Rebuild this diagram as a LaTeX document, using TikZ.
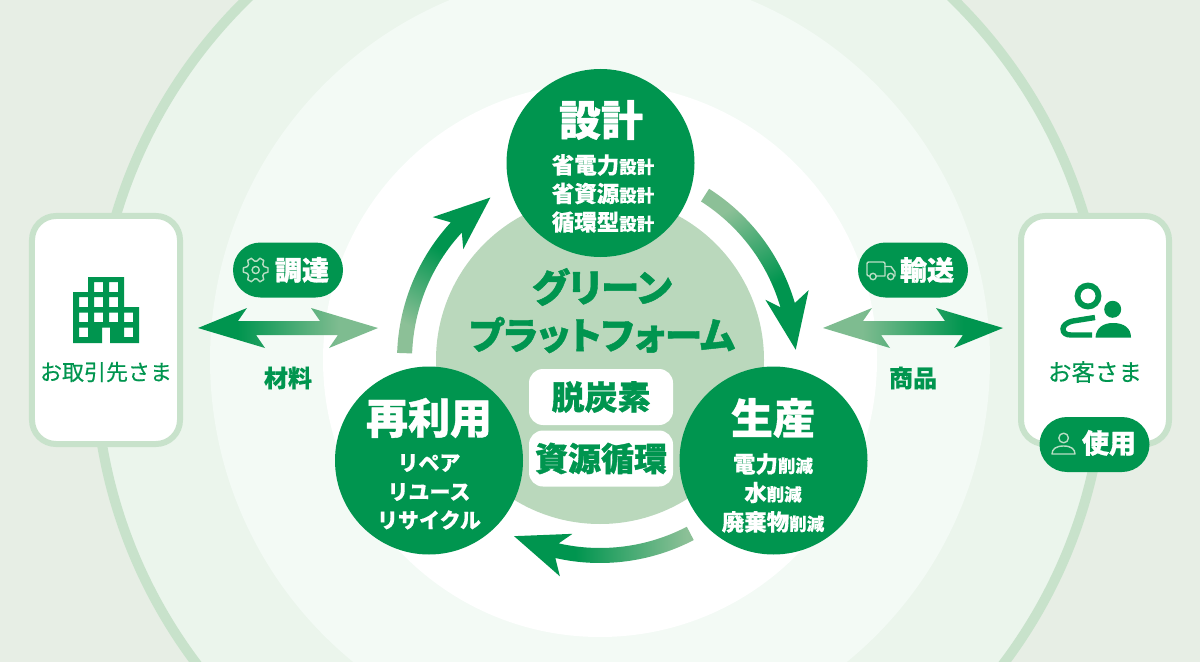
\documentclass[tikz,border=0pt]{standalone}
\usepackage{fontspec}
\setmainfont{Noto Sans CJK JP}
\newfontfamily\jpr{Noto Sans CJK JP}[FakeBold=0.35]
\newfontfamily\jpm{Noto Sans CJK JP}[BoldFeatures={FakeBold=0.15}]
\newfontfamily\jph{Noto Sans CJK JP}[BoldFeatures={FakeBold=1.0}]
\newfontfamily\jpk{Noto Sans CJK JP}[BoldFeatures={FakeBold=1.2},RawFeature=+palt]
\definecolor{gr}{HTML}{00954F}
\definecolor{grlite}{HTML}{8CC097}
\definecolor{bgout}{HTML}{E7EEE5}
\definecolor{bgring}{HTML}{EBF5EC}
\definecolor{bgmid}{HTML}{F3FAF5}
\definecolor{ringc}{HTML}{C8E2CB}
\definecolor{platc}{HTML}{BAD8BC}
\definecolor{iconl}{HTML}{B9DEC4}
\pgfdeclarehorizontalshading{gradarc}{100bp}{color(0bp)=(grlite);color(27bp)=(grlite);color(58bp)=(gr);color(100bp)=(gr)}
\pgfdeclarehorizontalshading{gradbar}{100bp}{color(0bp)=(gr);color(36bp)=(gr);color(64bp)=(grlite!90!gr);color(100bp)=(grlite!90!gr)}
\newcommand{\fsz}[1]{\fontsize{#1bp}{#1bp}\selectfont}
\newcommand{\lineBS}[2]{{\fsz{22.5}#1\fsz{17.5}#2}}
\tikzset{
  hubdisc/.style={circle,fill=gr,minimum size=188bp,inner sep=0pt},
  partybox/.style={rectangle,rounded corners=24bp,draw=ringc,line width=6bp,fill=white,minimum width=148bp,minimum height=228bp,inner sep=0pt},
  pill/.style={rectangle,rounded corners=27.5bp,fill=gr,minimum width=110bp,minimum height=55bp,inner sep=0pt},
  tagbox/.style={rectangle,rounded corners=14bp,fill=white,minimum width=144bp,minimum height=56bp,inner sep=0pt},
  txt/.style={inner sep=0pt,outer sep=0pt,align=center},
  whead/.style={txt,text=white,font=\jph\bfseries\fsz{42}},
  wsub/.style={txt,text=white,font=\jpm\bfseries},
  gtag/.style={txt,text=gr,font=\jph\bfseries\fsz{33}},
  gname/.style={txt,text=gr,font=\jpr\fsz{22}},
  glabel/.style={txt,text=gr,font=\jpm\bfseries\fsz{24}},
  wpill/.style={txt,text=white,font=\jph\bfseries\fsz{27}},
  ticon/.style={draw=iconl,line width=1.4bp,line join=round,line cap=round},
}
\begin{document}
\begin{tikzpicture}[x=1bp,y=-1bp]
\useasboundingbox (0,0) rectangle (1200,662);
\fill[bgout] (0,0) rectangle (1200,662);
\coordinate (hub) at (600,360);
\begin{scope}
\clip (0,0) rectangle (1200,662);
\fill[bgring] (hub) circle [radius=505];
\draw[ringc,line width=10bp] (hub) circle [radius=505];
\fill[bgmid] (hub) circle [radius=390];
\fill[white] (hub) circle [radius=277];
\end{scope}
\fill[platc] (hub) circle [radius=164];

% cycle arrows
\newcommand{\cyclearrow}[3]{%
  \pgfmathsetmacro{\notch}{#2+13.3}\pgfmathsetmacro{\barbo}{#2+15.5}\pgfmathsetmacro{\barbi}{#2+17}%
  \begin{scope}[shift={(hub)},yscale=-1]
  \shade[shading=gradarc,shading angle=#3]
    (#1:203) arc[start angle=#1,end angle=\notch,radius=203] -- (\barbo:220) -- (#2:196) -- (\barbi:176) -- (\notch:188)
    arc[start angle=\notch,end angle=#1,radius=188] -- cycle;
  \end{scope}}
\cyclearrow{178}{124}{60}
\cyclearrow{57.5}{3}{-60}
\cyclearrow{-62.5}{-116}{180}

% discs
\node[hubdisc] (design) at (600.5,163) {};
\node[hubdisc] (reuse) at (429,460.5) {};
\node[hubdisc] (prod) at (773.5,460.5) {};
\node[whead] (designT) at (601,120) {設計};
\node[wsub] (d1) at (603,165) {\lineBS{省電力}{設計}};
\node[wsub] (d2) at (603,193.5) {\lineBS{省資源}{設計}};
\node[wsub] (d3) at (603,222) {\lineBS{循環型}{設計}};
\node[whead] (reuseT) at (429,418) {再利用};
\node[wsub,font=\jpm\bfseries\fsz{21}] (r1) at (429,463) {リペア};
\node[wsub,font=\jpm\bfseries\fsz{21}] (r2) at (429,492) {リユース};
\node[wsub,font=\jpm\bfseries\fsz{21}] (r3) at (429,520) {リサイクル};
\node[whead] (prodT) at (773,418) {生産};
\node[wsub] (p1) at (773,464) {\lineBS{電力}{削減}};
\node[wsub] (p2) at (773,492.5) {\lineBS{水}{削減}};
\node[wsub] (p3) at (773,522) {\lineBS{廃棄物}{削減}};

% platform
\node[txt,text=gr,font=\jpk\bfseries\fsz{38.5}] (gp1) at (602,287) {グリーン};
\node[txt,text=gr,font=\jpk\bfseries\fsz{37.5}] (gp2) at (602,335) {プラットフォーム};
\node[tagbox] (tag1) at (601,397) {};
\node[tagbox] (tag2) at (601,458.5) {};
\node[gtag] at (tag1) {脱炭素};
\node[gtag] at (tag2) {資源循環};

% party boxes
\node[partybox] (supplier) at (106,330) {};
\node[partybox] (customer) at (1095,330) {};
\node[gname] (supT) at (106,372) {お取引先さま};
\node[gname,font=\jpr\fsz{23.5}] (cusT) at (1095,372) {お客さま};

% pills
\node[pill] (pillA) at (288,270) {};
\node[pill] (pillB) at (913,270) {};
\node[pill] (pillC) at (1094.5,444.5) {};
\node[wpill] (pillAT) at (302,270) {調達};
\node[wpill] (pillBT) at (927,270) {輸送};
\node[wpill] (pillCT) at (1109,443) {使用};
\node[glabel] (lab1) at (288,378) {材料};
\node[glabel] (lab2) at (913,378) {商品};

% double arrows
\coordinate (aL) at (198,328);
\coordinate (aR) at (378,328);
\coordinate (bL) at (823,328);
\coordinate (bR) at (1003,328);
\newcommand{\dblarrow}[3]{%
  \shade[shading=gradbar,shading angle=#3] (#1) -- ++(49,-20) -- ++(-9,13) -- ++(82,0) -- ++(-9,-13) -- (#2) -- ++(-49,20) -- ++(9,-13) -- ++(-82,0) -- ++(9,13) -- cycle;}
\dblarrow{aL}{aR}{0}
\dblarrow{bL}{bR}{180}

% building icon
\fill[gr,even odd rule]
  (73,292) -- (88,292) -- (88,277) -- (124,277) -- (124,307) -- (139,307) -- (139,343) -- (110,343) -- (110,327.5) -- (102,327.5) -- (102,343) -- (73,343) -- cycle
  (94,282) rectangle (103,292) (109,282) rectangle (118,292)
  (79,297) rectangle (88,307) (94,297) rectangle (103,307) (109,297) rectangle (118,307)
  (79,312.5) rectangle (88,322) (94,312.5) rectangle (103,322) (109,312.5) rectangle (118,322) (124,312.5) rectangle (133,322)
  (79,327.5) rectangle (88,337) (124,327.5) rectangle (133,337);

% customer icon
\draw[gr,line width=5.8bp] (1088,296) circle [radius=10.5];
\fill[gr] (1112.7,309.3) circle [radius=8.5];
\draw[gr,line width=5.4bp] (1095,317.5) -- (1073,321) .. controls (1066,322.5) and (1063,326) .. (1063,329) .. controls (1063,333) and (1066,335) .. (1071,335) -- (1092,335);
\fill[gr] (1095.5,337.5) .. controls (1096,328) and (1103,323) .. (1113,323) .. controls (1124,323) and (1131,328) .. (1131,337.5) -- cycle;

% gear icon
\begin{scope}[shift={(255.7,270)},yscale=-1]
\draw[ticon] (10:12.5)
  \foreach \a in {0,60,...,300}{
    -- (\a+10:12.5) -- (\a+22:9) -- (\a+38:9) -- (\a+50:12.5)
  } -- cycle;
\draw[ticon] (0,0) circle [radius=3.6];
\end{scope}

% truck icon
\draw[ticon] (873,276) -- (869,276) .. controls (867.5,276) and (867,275.5) .. (867,274) -- (867,264) .. controls (867,262.5) and (867.5,262) .. (869,262) -- (883,262) .. controls (884.5,262) and (885,262.5) .. (885,264) -- (885,276) -- (873,276);
\draw[ticon] (885,266.5) -- (891,266.5) -- (895,272) -- (895,276) -- (890.7,276);
\fill[gr] (873,276.5) circle [radius=3.4];
\fill[gr] (890.7,276.5) circle [radius=3.4];
\draw[ticon] (873,276.5) circle [radius=3.2];
\draw[ticon] (890.7,276.5) circle [radius=3.2];

% person icon
\draw[ticon] (1063.6,438) circle [radius=4.8];
\draw[ticon] (1052,454) .. controls (1052,449) and (1056,446) .. (1063.6,446) .. controls (1071,446) and (1075,449) .. (1075,454) -- cycle;
\end{tikzpicture}
\end{document}
